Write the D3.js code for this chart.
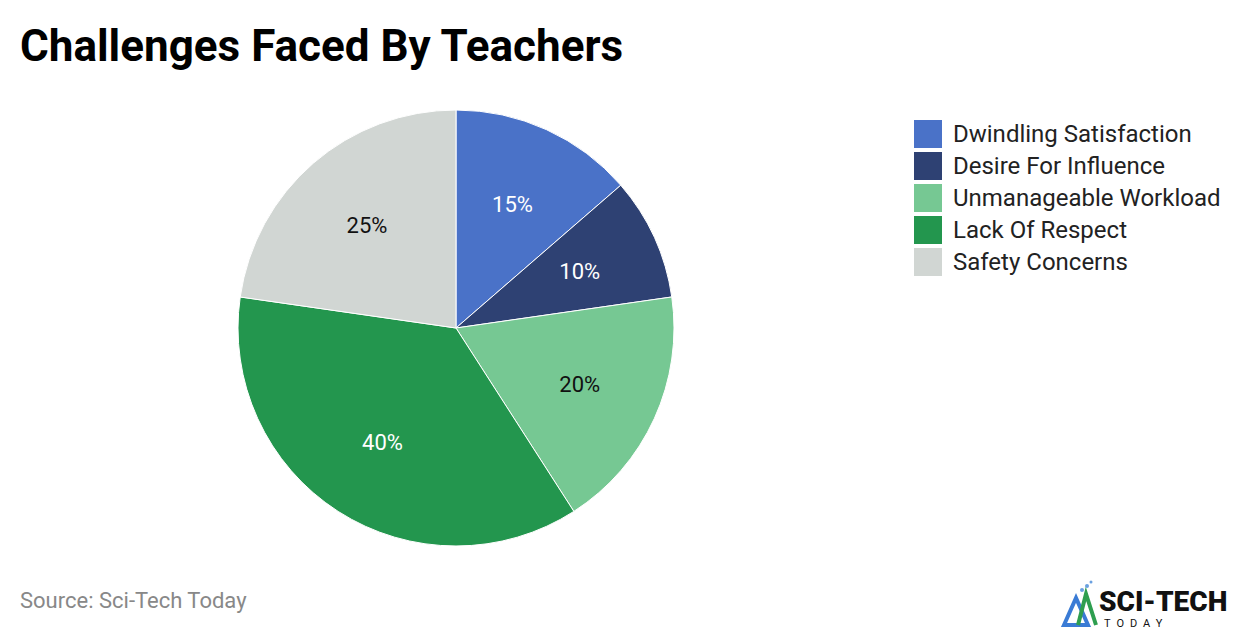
<!DOCTYPE html>
<html><head><meta charset="utf-8">
<script src="https://cdn.jsdelivr.net/npm/d3@7"></script>
<style>body{margin:0;background:#fff;font-family:Roboto,sans-serif;}</style>
</head><body>
<svg id="c" width="1240" height="634"></svg>
<script>
const categories = ["Dwindling Satisfaction","Desire For Influence","Unmanageable Workload","Lack Of Respect","Safety Concerns"];
const values = [15,10,20,40,25];
const labels = ["15%","10%","20%","40%","25%"];
const colors = ["#4a72c8","#2e4173","#76c893","#23964e","#d1d6d3"];
const labelColors = ["#fff","#fff","#111","#fff","#111"];

const svg = d3.select("#c");
svg.append("text").attr("x",20).attr("y",61).attr("font-size",44).attr("font-weight",700)
  .attr("fill","#000").text("Challenges Faced By Teachers");

const cx=456, cy=328, R=218;
const pie = d3.pie().sort(null).value(d=>d)(values);
const arc = d3.arc().innerRadius(0).outerRadius(R);
const lab = d3.arc().innerRadius(136).outerRadius(136);
const g = svg.append("g").attr("transform",`translate(${cx},${cy})`);
g.selectAll("path").data(pie).join("path").attr("d",arc)
  .attr("fill",(d,i)=>colors[i]).attr("stroke","#fff").attr("stroke-width",1);
g.selectAll("text").data(pie).join("text")
  .attr("transform",d=>`translate(${lab.centroid(d)})`)
  .attr("text-anchor","middle").attr("dy","0.35em").attr("font-size",22)
  .attr("fill",(d,i)=>labelColors[i]).text((d,i)=>labels[i]);

const lg = svg.append("g");
categories.forEach((c,i)=>{
  lg.append("rect").attr("x",914).attr("y",120+i*32).attr("width",28).attr("height",28).attr("fill",colors[i]);
  lg.append("text").attr("x",953).attr("y",134+i*32).attr("dy","0.35em").attr("font-size",24)
    .attr("fill","#222").text(c);
});

svg.append("text").attr("x",20).attr("y",608).attr("font-size",22).attr("fill","#888").text("Source: Sci-Tech Today");

// logo
const lo = svg.append("g").attr("transform","translate(1062,580)");
lo.append("path").attr("d","M2,45 L14,18 L26,45 Z").attr("fill","none").attr("stroke","#3a7bd5").attr("stroke-width",4);
lo.append("path").attr("d","M16,45 L24,14 L34,45").attr("fill","none").attr("stroke","#2e9e4f").attr("stroke-width",4);
[[20,10,2],[25,6,2],[29,2,1.5]].forEach(p=>lo.append("circle").attr("cx",p[0]).attr("cy",p[1]).attr("r",p[2]).attr("fill","#6aa0e0"));
lo.append("text").attr("x",37).attr("y",31).attr("font-size",28).attr("font-weight",900).attr("fill","#111").text("SCI-TECH");
lo.append("text").attr("x",42).attr("y",47).attr("font-size",11).attr("letter-spacing",6).attr("fill","#111").text("TODAY");
</script>
</body></html>
